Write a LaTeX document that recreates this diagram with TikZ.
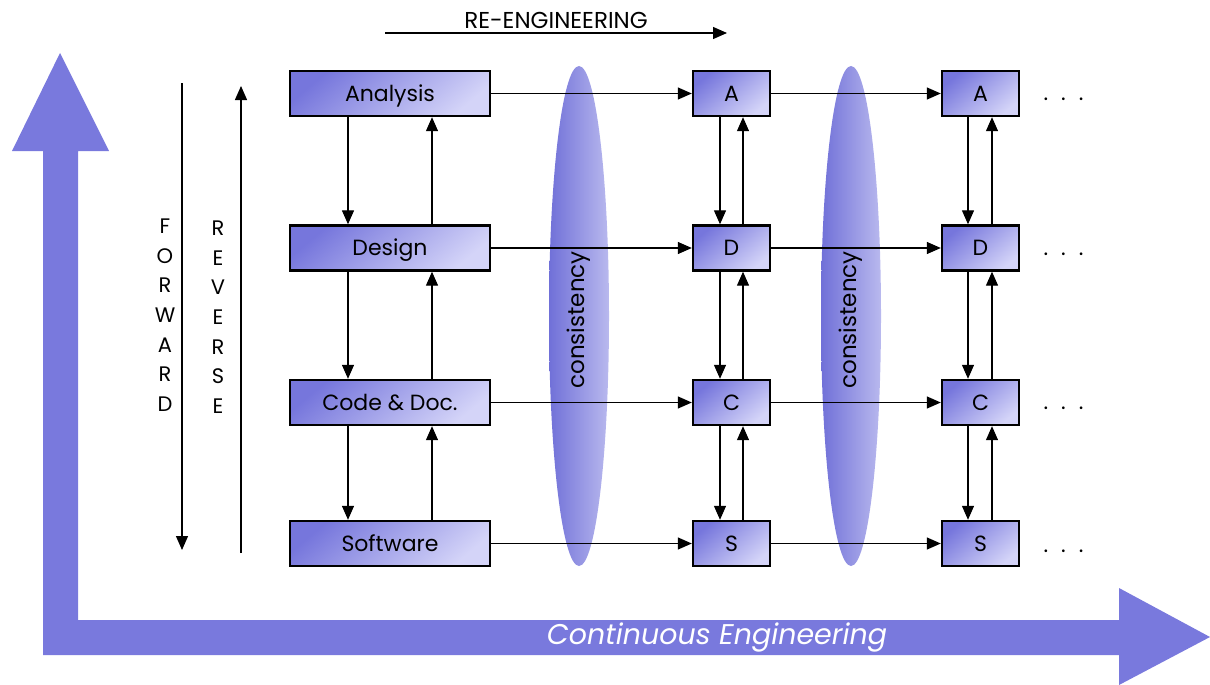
\documentclass[tikz,border=0pt]{standalone}
\usepackage{fontspec}
\setmainfont{Poppins}
\usetikzlibrary{arrows.meta,shapes.geometric}
\definecolor{bigarrow}{RGB}{121,121,221}
\definecolor{boxdark}{RGB}{118,118,220}
\definecolor{boxlight}{RGB}{212,212,248}
\definecolor{elldark}{RGB}{112,112,216}
\definecolor{elllight}{RGB}{185,185,238}
\tikzset{
  stage/.style={draw=black, line width=2.4pt, minimum height=45pt,
    top color=boxdark, bottom color=boxlight, shading angle=40,
    font=\fontsize{22pt}{22pt}\selectfont, inner sep=0pt,
    text height=15pt, text depth=0pt},
  wide/.style={stage, minimum width=200pt},
  narrow/.style={stage, minimum width=77pt},
  conn/.style={line width=1.3pt, -{Triangle[length=14pt,width=12pt]}},
  axislbl/.style={font=\fontsize{21pt}{21pt}\selectfont},
  dots/.style={font=\fontsize{22pt}{22pt}\selectfont, anchor=west},
  consist/.style={ellipse, minimum width=60pt, minimum height=500pt,
    left color=elldark, right color=elllight, inner sep=0pt},
  consistlbl/.style={rotate=90, font=\fontsize{23pt}{23pt}\selectfont}
}
\begin{document}
\begin{tikzpicture}[x=1pt,y=-1pt]
\useasboundingbox (0,0) rectangle (1210,685);

% continuous engineering axes
\fill[bigarrow] (43,151) -- (43,655) -- (1119,655) -- (1119,685) -- (1210,637)
  -- (1119,588) -- (1119,620) -- (78,620) -- (78,151) -- (109,151) -- (60,53)
  -- (12,151) -- cycle;
\node[text=white, font=\fontsize{28.5pt}{28.5pt}\selectfont\itshape] (ce) at (717,637) {Continuous Engineering};

% consistency ellipses
\node[consist] (e1) at (579,316) {};
\node[consistlbl] (c1) at (579,320) {consistency};
\node[consist] (e2) at (851,316) {};
\node[consistlbl] (c2) at (851,320) {consistency};

% first column
\node[wide] (an) at (390,93.5) {Analysis};
\node[wide] (de) at (390,248) {Design};
\node[wide] (co) at (390,402.5) {Code \& Doc.};
\node[wide] (so) at (390,543.5) {Software};

% second column
\node[narrow] (a1) at (731.5,93.5) {A};
\node[narrow] (d1) at (731.5,248) {D};
\node[narrow] (c1b) at (731.5,402.5) {C};
\node[narrow] (s1) at (731.5,543.5) {S};

% third column
\node[narrow] (a2) at (980.5,93.5) {A};
\node[narrow] (d2) at (980.5,248) {D};
\node[narrow] (c2b) at (980.5,402.5) {C};
\node[narrow] (s2) at (980.5,543.5) {S};

% continuation dots
\foreach \n/\y in {a/99, d/254, c/408, s/551}
  \node[dots] (dots\n) at (1040,\y) {.\hspace{13pt}.\hspace{13pt}.};

% horizontal flows
\foreach \l/\r in {an/a1, de/d1, co/c1b, so/s1, a1/a2, d1/d2, c1b/c2b, s1/s2}
  \draw[conn] (\l.east) -- (\r.west);

% vertical flows, first column
\foreach \u/\d in {an/de, de/co, co/so}{
  \draw[conn] (\u.south -| 348,0) -- (\d.north -| 348,0);
  \draw[conn] (\d.north -| 432,0) -- (\u.south -| 432,0);
}
% vertical flows, second column
\foreach \u/\d in {a1/d1, d1/c1b, c1b/s1}{
  \draw[conn] (\u.south -| 720,0) -- (\d.north -| 720,0);
  \draw[conn] (\d.north -| 743,0) -- (\u.south -| 743,0);
}
% vertical flows, third column
\foreach \u/\d in {a2/d2, d2/c2b, c2b/s2}{
  \draw[conn] (\u.south -| 968,0) -- (\d.north -| 968,0);
  \draw[conn] (\d.north -| 992,0) -- (\u.south -| 992,0);
}

% forward / reverse axes
\coordinate (fwdtop) at (182,83);
\coordinate (fwdbot) at (182,550);
\coordinate (revbot) at (241,553);
\coordinate (revtop) at (241,86);
\draw[conn] (fwdtop) -- (fwdbot);
\draw[conn] (revbot) -- (revtop);
\foreach \ch [count=\i from 0] in {F,O,R,W,A,R,D}
  \node[axislbl] (fw\i) at (165,226+29.7*\i) {\ch};
\foreach \ch [count=\i from 0] in {R,E,V,E,R,S,E}
  \node[axislbl] (rv\i) at (218,228+29.7*\i) {\ch};

% re-engineering
\node[axislbl, font=\fontsize{23pt}{23pt}\selectfont] (re) at (556,20) {RE-ENGINEERING};
\coordinate (rel) at (385,33);
\coordinate (rer) at (727,33);
\draw[conn] (rel) -- (rer);
\end{tikzpicture}
\end{document}
